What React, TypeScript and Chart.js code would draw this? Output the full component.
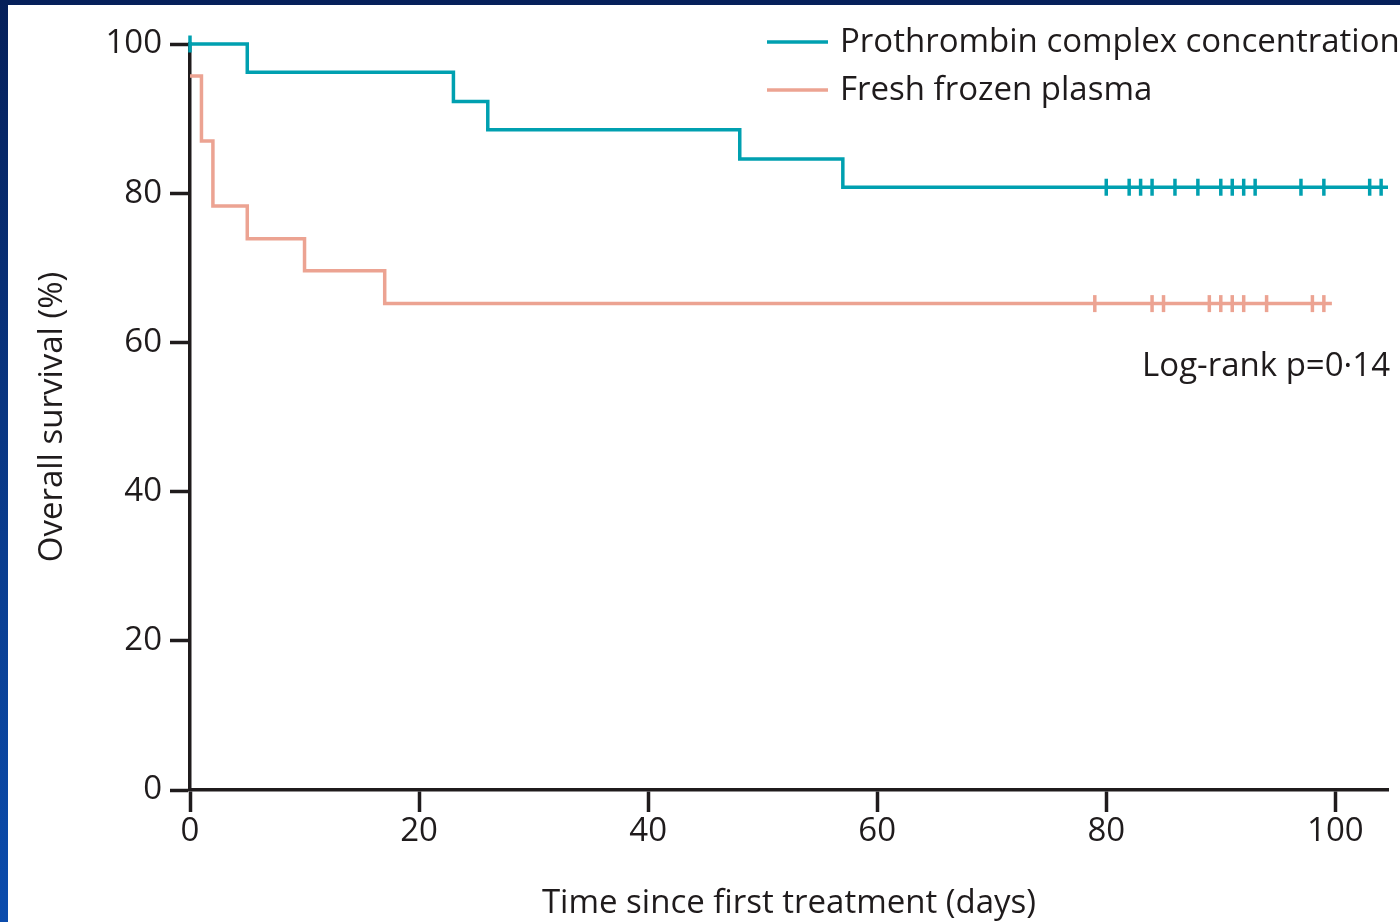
import React, { useEffect, useRef } from "react";
import { Chart, registerables } from "chart.js";

Chart.register(...registerables);

// Kaplan-Meier step data (time in days, survival in %)
const pccTimes = [0, 5, 23, 26, 48, 57, 104.6];
const pccSurvival = [100, 96.2, 92.3, 88.5, 84.6, 80.8, 80.8];
const ffpTimes = [0, 1, 2, 5, 10, 17, 99.7];
const ffpSurvival = [95.7, 87.0, 78.3, 73.9, 69.6, 65.2, 65.2];

// censoring marks (days)
const pccCensorDays = [0, 80, 82, 83, 84, 86, 88, 90, 91, 92, 93, 97, 99, 103, 104];
const ffpCensorDays = [79, 84, 85, 89, 90, 91, 92, 94, 98, 99];

const xTicks = [0, 20, 40, 60, 80, 100];
const yTicks = [0, 20, 40, 60, 80, 100];

const seriesLabels = ["Prothrombin complex concentration", "Fresh frozen plasma"];
const annotationText = "Log-rank p=0\u00b714";
const xTitle = "Time since first treatment (days)";
const yTitle = "Overall survival (%)";

const TEAL = "#00a0b0";
const SALMON = "#eca392";
const INK = "#1f1b1c";
const FONT = '"Open Sans", "Noto Sans", sans-serif';

function stepValue(times: number[], vals: number[], t: number): number {
  let v = vals[0];
  for (let i = 0; i < times.length; i++) {
    if (times[i] <= t) v = vals[i];
  }
  return v;
}

const overlayPlugin = {
  id: "kmOverlay",
  afterDraw(chart: any) {
    const { ctx } = chart;
    ctx.save();
    ctx.font = `33px ${FONT}`;
    ctx.fillStyle = INK;
    ctx.textAlign = "left";
    ctx.textBaseline = "alphabetic";
    const items = [
      { color: TEAL, y: 37, base: 47, label: seriesLabels[0] },
      { color: SALMON, y: 85, base: 95, label: seriesLabels[1] },
    ];
    items.forEach((it) => {
      ctx.strokeStyle = it.color;
      ctx.lineWidth = 3.5;
      ctx.beginPath();
      ctx.moveTo(759, it.y);
      ctx.lineTo(820, it.y);
      ctx.stroke();
      ctx.fillText(it.label, 832, it.base);
    });
    ctx.textAlign = "right";
    ctx.fillText(annotationText, 1382, 371);
    ctx.restore();
  },
};

export default function App() {
  const ref = useRef<HTMLCanvasElement | null>(null);

  useEffect(() => {
    document.body.style.margin = "0";
    if (!ref.current) return;
    const pcc = pccTimes.map((t, i) => ({ x: t, y: pccSurvival[i] }));
    const ffp = ffpTimes.map((t, i) => ({ x: t, y: ffpSurvival[i] }));
    const pccC = pccCensorDays.map((t) => ({
      x: t,
      y: t === 0 ? 100 : stepValue(pccTimes, pccSurvival, t),
    }));
    const ffpC = ffpCensorDays.map((t) => ({ x: t, y: stepValue(ffpTimes, ffpSurvival, t) }));

    const censorStyle = (color: string) => ({
      type: "scatter" as const,
      showLine: false,
      pointStyle: "line" as const,
      rotation: 90,
      pointRadius: 8.5,
      pointBorderWidth: 3.5,
      pointBorderColor: color,
      pointBackgroundColor: color,
      borderColor: color,
      clip: false as any,
    });

    const chart = new Chart(ref.current, {
      type: "scatter",
      data: {
        datasets: [
          {
            label: seriesLabels[0],
            data: pcc,
            showLine: true,
            stepped: true,
            borderColor: TEAL,
            borderWidth: 3.5,
            pointRadius: 0,
            clip: false as any,
          },
          {
            label: seriesLabels[1],
            data: ffp,
            showLine: true,
            stepped: true,
            borderColor: SALMON,
            borderWidth: 3.5,
            pointRadius: 0,
            clip: false as any,
          },
          { label: "pcc censored", data: pccC, ...censorStyle(TEAL) },
          { label: "ffp censored", data: ffpC, ...censorStyle(SALMON) },
        ] as any,
      },
      options: {
        responsive: false,
        animation: false,
        layout: { padding: { top: 39, right: 7, left: 0, bottom: 0 } },
        plugins: { legend: { display: false }, tooltip: { enabled: false } },
        scales: {
          x: {
            type: "linear",
            min: 0,
            max: 104.6,
            afterBuildTicks: (s: any) => {
              s.ticks = xTicks.map((v) => ({ value: v }));
            },
            afterFit: (s: any) => {
              s.height = 132;
              s.paddingLeft = 0;
              s.paddingRight = 0;
            },
            ticks: {
              color: INK,
              font: { family: FONT, size: 33 },
              padding: 0,
              maxRotation: 0,
              callback: (v: any) => String(v),
            },
            grid: {
              display: true,
              drawOnChartArea: false,
              drawTicks: true,
              tickLength: 22,
              tickWidth: 3.5,
              color: INK,
            },
            border: { display: true, color: INK, width: 3.5 },
            title: {
              display: true,
              text: xTitle,
              color: INK,
              font: { family: FONT, size: 33, lineHeight: 1 },
              padding: { top: 0, bottom: 2 },
            },
          },
          y: {
            type: "linear",
            min: 0,
            max: 100,
            afterBuildTicks: (s: any) => {
              s.ticks = yTicks.map((v) => ({ value: v }));
            },
            afterFit: (s: any) => {
              s.width = 182;
              s.paddingTop = 0;
              s.paddingBottom = 0;
            },
            ticks: {
              color: INK,
              font: { family: FONT, size: 33 },
              padding: 8,
              callback: (v: any) => String(v),
            },
            grid: {
              display: true,
              drawOnChartArea: false,
              drawTicks: true,
              tickLength: 20,
              tickWidth: 3.5,
              color: INK,
            },
            border: { display: true, color: INK, width: 3.5 },
            title: {
              display: true,
              text: yTitle,
              color: INK,
              font: { family: FONT, size: 33, lineHeight: 1 },
              padding: { top: 28, bottom: 0 },
            },
          },
        },
      },
      plugins: [overlayPlugin],
    });
    return () => chart.destroy();
  }, []);

  return (
    <div
      style={{
        position: "relative",
        width: 1400,
        height: 922,
        overflow: "hidden",
        background: "linear-gradient(to bottom, #06205a 0%, #0a3d8f 60%, #0b4cad 100%)",
      }}
    >
      <div
        style={{
          position: "absolute",
          left: 8,
          top: 5,
          width: 1392,
          height: 917,
          background: "#ffffff",
        }}
      >
        <canvas ref={ref} width={1392} height={917} style={{ display: "block" }} />
      </div>
    </div>
  );
}
